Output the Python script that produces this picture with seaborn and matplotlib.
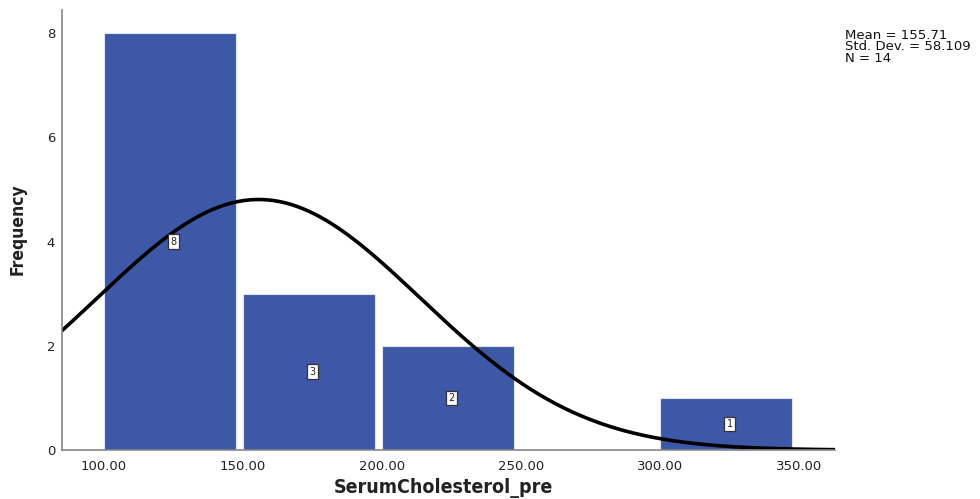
import numpy as np
import pandas as pd
import matplotlib
matplotlib.use("Agg")
import matplotlib.pyplot as plt
import seaborn as sns

# Histogram bins and counts
bin_edges = [100, 150, 200, 250, 300, 350]
bin_centers = [125, 175, 225, 275, 325]
counts = [8, 3, 2, 0, 1]

# Summary statistics
mean_val = 155.71
sd_val = 58.109
n_val = 14

x_ticks = [100, 150, 200, 250, 300, 350]
y_ticks = [0, 2, 4, 6, 8]

sns.set_style("white")
plt.rcParams["font.family"] = ["DejaVu Sans"]

fig = plt.figure(figsize=(9.8, 4.99), dpi=100)
ax = fig.add_axes([0.0633, 0.098, 0.789, 0.882])

df = pd.DataFrame({"SerumCholesterol_pre": bin_centers, "count": counts})
sns.histplot(data=df, x="SerumCholesterol_pre", weights="count", bins=bin_edges,
             color="#3E58A8", alpha=1.0, edgecolor="#dfe6f3", linewidth=0.8,
             ax=ax)
# Leave a small gap on the right side of each bar
for p in ax.patches:
    p.set_width(p.get_width() * 0.95)

# Fitted normal curve scaled to counts
bw = bin_edges[1] - bin_edges[0]
xs = np.linspace(85, 363, 400)
ys = n_val * bw / (sd_val * np.sqrt(2 * np.pi)) * np.exp(-0.5 * ((xs - mean_val) / sd_val) ** 2)
sns.lineplot(x=xs, y=ys, color="black", linewidth=2.6, ax=ax)

# Count labels in boxes
for c, n in zip(bin_centers, counts):
    if n > 0:
        ax.text(c, n / 2, str(n), ha="center", va="center", fontsize=7,
                color="#222222",
                bbox=dict(boxstyle="square,pad=0.25", fc="white", ec="#333333", lw=0.9))

ax.set_xlim(85, 363)
ax.set_ylim(0, 8.44)
ax.set_xticks(x_ticks)
ax.set_xticklabels([f"{v:.2f}" for v in x_ticks], fontsize=9.5, color="#222222")
ax.set_yticks(y_ticks)
ax.set_yticklabels([str(v) for v in y_ticks], fontsize=9.5, color="#222222")
ax.tick_params(axis="x", length=0, pad=7)
ax.tick_params(axis="y", length=0, pad=5)

ax.set_xlabel("")
ax.set_ylabel("")
fig.text(0.4525, 0.012, "SerumCholesterol_pre", fontsize=14, fontweight="bold",
         fontstretch="condensed", ha="center", va="baseline", color="#222222")
fig.text(0.018, 0.541, "Frequency", fontsize=12.5, fontweight="bold",
         fontstretch="condensed", rotation=90, ha="center", va="center", color="#222222")

for side in ["top", "right"]:
    ax.spines[side].set_visible(False)
for side in ["left", "bottom"]:
    ax.spines[side].set_color("#888888")
    ax.spines[side].set_linewidth(1.2)

fig.text(0.862, 0.942, f"Mean = {mean_val:.2f}\nStd. Dev. = {sd_val:.3f}\nN = {n_val}",
         fontsize=9.5, va="top", ha="left", linespacing=0.85, color="#111111")

fig.savefig("out.png", dpi=100)
